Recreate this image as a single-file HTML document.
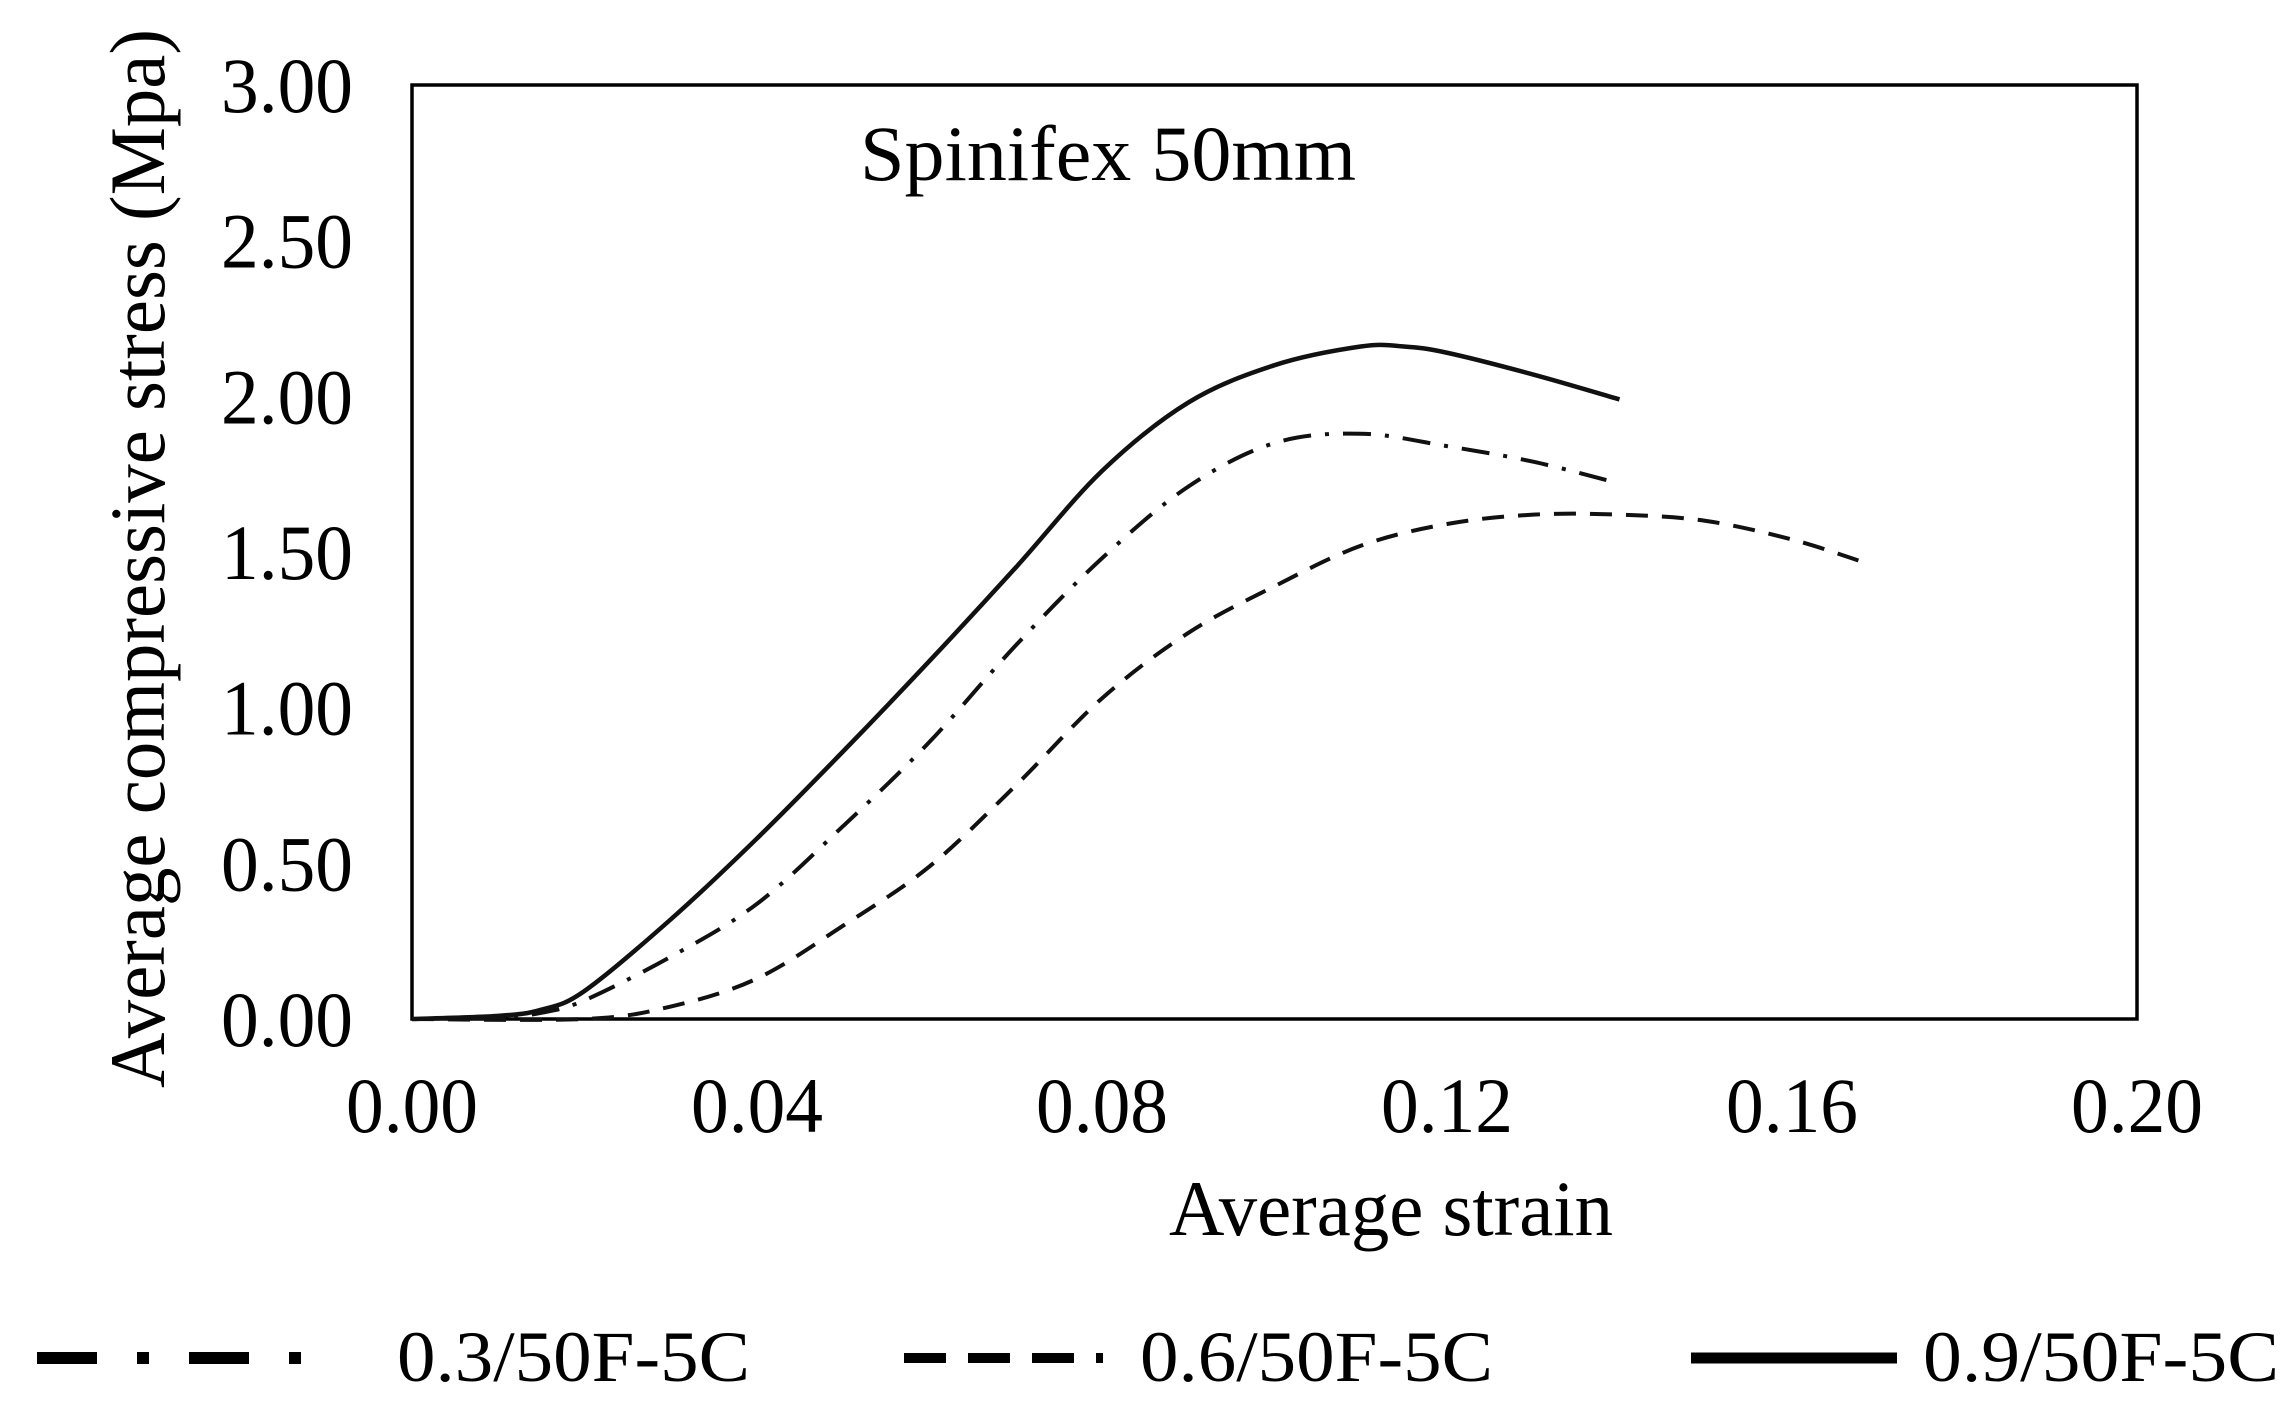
<!DOCTYPE html>
<html><head><meta charset="utf-8"><style>
html,body{margin:0;padding:0;background:#fff;}
svg{display:block;font-family:"Liberation Serif",serif;}
</style></head><body>
<svg id="chart" width="2294" height="1411" viewBox="0 0 2294 1411">
<rect x="412" y="85" width="1725" height="934" fill="none" stroke="#000" stroke-width="3.5"/>
<text x="860" y="180" font-size="78" textLength="496" lengthAdjust="spacingAndGlyphs">Spinifex  50mm</text>
<text x="1169" y="1235" font-size="78" textLength="444" lengthAdjust="spacingAndGlyphs">Average  strain</text>
<text transform="translate(164,1088) rotate(-90)" font-size="78" textLength="1059" lengthAdjust="spacingAndGlyphs">Average  compressive stress (Mpa)</text>
<g id="axes"></g>
<g id="series"></g>
<g>
 <line x1="37" y1="1358" x2="324" y2="1358" stroke="#000" stroke-width="12" stroke-dasharray="60,40,12,40"/>
 <text x="397" y="1381" font-size="72" textLength="353" lengthAdjust="spacingAndGlyphs">0.3/50F-5C</text>
 <line x1="904" y1="1358" x2="1103" y2="1358" stroke="#000" stroke-width="10" stroke-dasharray="42,22"/>
 <text x="1140" y="1381" font-size="72" textLength="353" lengthAdjust="spacingAndGlyphs">0.6/50F-5C</text>
 <line x1="1691" y1="1358" x2="1897" y2="1358" stroke="#000" stroke-width="11"/>
 <text x="1923" y="1381" font-size="72" textLength="356" lengthAdjust="spacingAndGlyphs">0.9/50F-5C</text>
</g>
</svg>
<script>
const xTicks=[0,0.04,0.08,0.12,0.16,0.20];
const xTickLabels=["0.00","0.04","0.08","0.12","0.16","0.20"];
const yTicks=[0,0.5,1,1.5,2,2.5,3];
const yTickLabels=["0.00","0.50","1.00","1.50","2.00","2.50","3.00"];
const s03x=[0,0.01,0.015,0.02,0.03,0.04,0.05,0.06,0.07,0.08,0.09,0.10,0.11,0.12,0.13,0.14];
const s03y=[0,0.005,0.02,0.06,0.2,0.37,0.62,0.89,1.2,1.48,1.71,1.85,1.88,1.84,1.79,1.72];
const s06x=[0,0.02,0.03,0.04,0.05,0.06,0.07,0.08,0.09,0.10,0.11,0.12,0.13,0.14,0.15,0.16,0.168];
const s06y=[0,0.0,0.04,0.13,0.30,0.49,0.75,1.03,1.24,1.39,1.52,1.59,1.62,1.62,1.60,1.54,1.47];
const s09x=[0,0.01,0.015,0.02,0.03,0.04,0.05,0.06,0.07,0.08,0.09,0.10,0.11,0.115,0.12,0.13,0.14];
const s09y=[0,0.01,0.03,0.09,0.32,0.58,0.86,1.15,1.45,1.76,1.98,2.10,2.16,2.16,2.14,2.07,1.99];
const X=v=>412+v/0.2*1725, Y=v=>1019-v/3*934;
const NS="http://www.w3.org/2000/svg";
const axes=document.getElementById('axes'), ser=document.getElementById('series');
xTicks.forEach((t,i)=>{const e=document.createElementNS(NS,'text');


e.setAttribute('x',X(t));e.setAttribute('y',1132);e.setAttribute('font-size','78');e.setAttribute('text-anchor','middle');
e.setAttribute('textLength','132');e.setAttribute('lengthAdjust','spacingAndGlyphs');e.textContent=xTickLabels[i];axes.appendChild(e);});
yTicks.forEach((t,i)=>{const e=document.createElementNS(NS,'text');


e.setAttribute('x',353);e.setAttribute('y',Y(t)+27);e.setAttribute('font-size','78');e.setAttribute('text-anchor','end');
e.setAttribute('textLength','132');e.setAttribute('lengthAdjust','spacingAndGlyphs');e.textContent=yTickLabels[i];axes.appendChild(e);});
function path(xs,ys){const p=xs.map((x,i)=>[X(x),Y(ys[i])]);let d='M'+p[0][0]+','+p[0][1];
for(let i=0;i<p.length-1;i++){const p0=p[i-1]||p[i],p1=p[i],p2=p[i+1],p3=p[i+2]||p2;
d+=` C${p1[0]+(p2[0]-p0[0])/6},${p1[1]+(p2[1]-p0[1])/6} ${p2[0]-(p3[0]-p1[0])/6},${p2[1]-(p3[1]-p1[1])/6} ${p2[0]},${p2[1]}`;}return d;}
function add(xs,ys,name,dash,w){const e=document.createElementNS(NS,'path');


e.setAttribute('d',path(xs,ys));e.setAttribute('fill','none');e.setAttribute('stroke','#111');e.setAttribute('stroke-width',w);
if(dash)e.setAttribute('stroke-dasharray',dash);ser.appendChild(e);}
add(s06x,s06y,'series-0.6-dashed','22,14',4);
add(s03x,s03y,'series-0.3-dashdot','28,14,4,14',4);
add(s09x,s09y,'series-0.9-solid',null,4.5);
</script>
</body></html>
